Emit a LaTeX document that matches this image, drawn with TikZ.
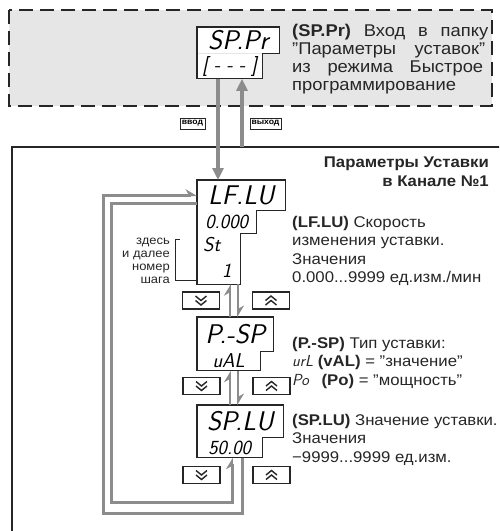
\documentclass[tikz,border=0pt]{standalone}
\usepackage{fontspec}
\setmainfont{Liberation Sans}[FakeStretch=1.08]
\usepackage{tikz}
\usetikzlibrary{arrows.meta,positioning}
\definecolor{PanelGray}{HTML}{E6E6E6}
\definecolor{FlowGray}{HTML}{8C8C8C}
\definecolor{InkDark}{HTML}{262626}
\newcommand{\segfont}[1]{\sffamily\slshape\fontsize{#1}{#1}\selectfont}
\tikzset{
  display/.style={inner sep=0pt, anchor=north west, fill=white},
  segbig/.style={display, font={\segfont{27}}},
  segsmall/.style={display, font={\segfont{20}}},
  dispframe/.style={InkDark, line width=1.2pt, line join=miter},
  note/.style={font={\fontsize{15.5}{18.3}\selectfont}, align=left, inner sep=0pt, text=InkDark},
  keybox/.style={draw=InkDark, line width=0.8pt, inner sep=0pt, minimum height=11pt,
    font={\bfseries\fontsize{8}{8}\selectfont}},
  btn/.style={draw=InkDark, line width=1.2pt, inner sep=0pt, minimum width=37pt, minimum height=17pt},
  btndown/.style={btn, path picture={
    \draw[InkDark, line width=1.4pt] ([shift={(-5.5,-4.5)}]path picture bounding box.center) -- ++(5.5,4.5) -- ++(5.5,-4.5)
      ([shift={(-5.5,0)}]path picture bounding box.center) -- ++(5.5,4.5) -- ++(5.5,-4.5);}},
  btnup/.style={btn, path picture={
    \draw[InkDark, line width=1.4pt] ([shift={(-5.5,4.5)}]path picture bounding box.center) -- ++(5.5,-4.5) -- ++(5.5,4.5)
      ([shift={(-5.5,0)}]path picture bounding box.center) -- ++(5.5,-4.5) -- ++(5.5,4.5);}},
  flowarrow/.style={FlowGray, line width=3.5pt, -{Triangle[length=12pt, width=11pt]}},
  harpoon/.style={FlowGray, line width=2.5pt, -{Stealth[left, length=10pt, width=12pt]}},
  loopline/.style={FlowGray, line width=3pt, line join=miter}
}

\begin{document}
\begin{tikzpicture}[x=1pt,y=-1pt]
\clip (0,0) rectangle (499,531);

% quick programming area
\draw[InkDark, line width=1.8pt, dash pattern=on 14pt off 7pt, fill=PanelGray] (9,10) rectangle (492,106);
\node[segbig, minimum width=82pt, minimum height=26pt] (sppr) at (197,27) {SP.Pr};
\node[segsmall, minimum width=65pt, minimum height=25pt] (sppr2) at (sppr.south west) {[ - - - ]};
\draw[dispframe] (sppr.north west) -- (sppr.north east) -- (sppr.south east) -- (sppr2.north east)
  -- (sppr2.south east) -- (sppr2.south west) -- cycle;
\node[note, font={\fontsize{17}{18.3}\selectfont}, anchor=north west] (spprtext) at (292,23.5)
  {\makebox[196pt][s]{\textbf{(SP.Pr)} Вход в папку}\\\makebox[193pt][s]{"Параметры уставок"}\\
   \makebox[191pt][s]{из режима Быстрое}\\программирование};

% keys
\node[keybox, minimum width=25pt] (vvod) at (192.5,123.5) {ввод};
\node[keybox, minimum width=31pt] (vyhod) at (265.5,123.5) {выход};

% setpoint panel
\draw[InkDark, line width=1.3pt] (12,540) |- (510,147);
\node[note, font={\bfseries\fontsize{15.5}{18.3}\selectfont}, align=right, anchor=north east] (title) at (489,157)
  {Параметры Уставки\\в Канале №1};

% LF.LU
\node[segbig, minimum width=88pt, minimum height=30pt] (lflu) at (197,180) {LF.LU};
\node[segsmall, minimum width=59pt, minimum height=23pt] (lflu2) at (lflu.south west) {0.000};
\node[display, minimum width=43pt, minimum height=50pt] (lflu3) at (lflu2.south west) {};
\node[segsmall, fill=none] (stlabel) at ([shift={(6,3)}]lflu3.north west) {St};
\node[segsmall, fill=none] (stepno) at ([shift={(25,30)}]lflu3.north west) {1};
\draw[dispframe] (lflu.north west) -- (lflu.north east) -- (lflu.south east) -- (lflu2.north east)
  -- (lflu2.south east) -- (lflu3.north east) -- (lflu3.south east) -- (lflu3.south west) -- cycle;
\node[note, anchor=north west] (lflutext) at (292,216)
  {\textbf{(LF.LU)} Скорость\\изменения уставки.\\Значения\\0.000...9999 ед.изм./мин};

% step bracket
\node[note, font={\fontsize{12}{13}\selectfont}, align=right, anchor=north east] (steptext) at (170,237.5)
  {здесь\\и далее\\номер\\шага};
\coordinate (brtop) at (180,239);
\coordinate (brfoot) at (175,280);
\draw[InkDark, line width=0.8pt] (brtop) -- (brtop -| brfoot) -- (brfoot) -- (brfoot -| lflu3.west);

% P.-SP
\node[segbig, minimum width=76pt, minimum height=34pt] (psp) at (197,317) {P.-SP};
\node[segsmall, minimum width=63pt, minimum height=19pt] (psp2) at (psp.south west) {uAL};
\draw[dispframe] (psp.north west) -- (psp.north east) -- (psp.south east) -- (psp2.north east)
  -- (psp2.south east) -- (psp2.south west) -- cycle;
\node[note, anchor=north west] (psptext) at (292,337)
  {\textbf{(P.-SP)} Тип уставки:\\{\segfont{16}urL} \textbf{(vAL)} = "значение"\\{\segfont{16}Po}\hspace{12pt}\textbf{(Po)} = "мощность"};

% SP.LU
\node[segbig, minimum width=86pt, minimum height=32pt] (splu) at (197,405) {SP.LU};
\node[segsmall, minimum width=65pt, minimum height=20pt] (splu2) at (splu.south west) {50.00};
\draw[dispframe] (splu.north west) -- (splu.north east) -- (splu.south east) -- (splu2.north east)
  -- (splu2.south east) -- (splu2.south west) -- cycle;
\node[note, anchor=north west] (splutext) at (292,414)
  {\textbf{(SP.LU)} Значение уставки.\\Значения\\−9999...9999 ед.изм.};

% buttons
\node[btndown] (dn1) at (201,300.5) {};
\node[btnup] (up1) at (271,300.5) {};
\node[btndown] (dn2) at (201.5,386) {};
\node[btnup] (up2) at (271.5,386) {};
\node[btndown] (dn3) at (201.5,475) {};
\node[btnup] (up3) at (271.5,475) {};

% enter / exit
\coordinate (exitfoot) at (242,147);
\draw[flowarrow] ([xshift=21pt]sppr2.south west) -- ([xshift=21pt]lflu.north west);
\draw[flowarrow] (exitfoot) -- (exitfoot |- sppr2.south);

% stepping between parameters
\draw[harpoon] ([xshift=33pt]psp.north west) -- ([xshift=33pt]lflu3.south west);
\draw[harpoon] ([xshift=41pt]lflu3.south west) -- ([xshift=41pt]psp.north west);
\draw[harpoon] ([xshift=33pt]splu.north west) -- ([xshift=33pt]psp2.south west);
\draw[harpoon] ([xshift=41pt]psp2.south west) -- ([xshift=41pt]splu.north west);

% wrap-around loops
\draw[loopline, -{Stealth[left, length=10pt, width=12pt]}] ([xshift=45pt]splu2.south west) |- (103,513) |- (lflu.west);
\draw[loopline, -{Stealth[left, length=10pt, width=12pt]}] ([yshift=-8pt]lflu.west) -| (111,502) -| ([xshift=35pt]splu2.south west);
\end{tikzpicture}
\end{document}
